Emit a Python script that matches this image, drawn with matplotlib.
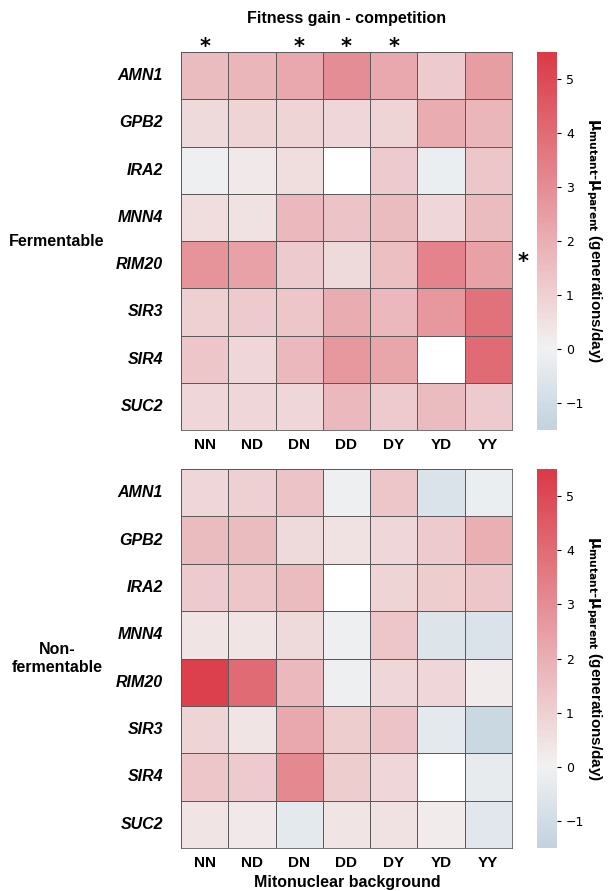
import numpy as np
import matplotlib
matplotlib.use('Agg')
import matplotlib.pyplot as plt
import seaborn as sns

genes = ['AMN1', 'GPB2', 'IRA2', 'MNN4', 'RIM20', 'SIR3', 'SIR4', 'SUC2']
backgrounds = ['NN', 'ND', 'DN', 'DD', 'DY', 'YD', 'YY']

# fitness gain (generations/day), fermentable carbon source
fermentable = np.array([
    [1.6, 1.8, 2.2, 3.0, 2.2, 1.2, 2.5],
    [0.7, 0.9, 0.9, 0.8, 0.9, 2.1, 1.8],
    [-0.1, 0.3, 0.6, np.nan, 1.2, -0.2, 1.3],
    [0.6, 0.5, 1.7, 1.4, 1.6, 0.8, 1.6],
    [2.8, 2.4, 1.2, 0.7, 1.5, 3.3, 2.4],
    [1.0, 1.2, 1.3, 2.1, 1.7, 2.7, 3.8],
    [1.3, 0.8, 1.7, 2.7, 2.3, np.nan, 4.0],
    [0.8, 0.8, 0.8, 1.7, 1.2, 1.6, 1.2],
])

# non-fermentable carbon source
nonfermentable = np.array([
    [0.8, 1.0, 1.4, -0.1, 1.3, -0.7, -0.2],
    [1.6, 1.6, 0.7, 0.5, 0.8, 1.2, 2.0],
    [1.2, 1.3, 1.6, np.nan, 0.9, 1.1, 1.3],
    [0.4, 0.4, 0.7, -0.1, 1.3, -0.6, -0.7],
    [5.3, 4.0, 1.7, -0.1, 0.8, 0.8, 0.2],
    [0.9, 0.4, 2.2, 1.1, 1.4, -0.4, -1.2],
    [1.3, 1.2, 3.1, 1.1, 0.8, np.nan, -0.3],
    [0.4, 0.3, -0.4, 0.4, 0.5, 0.2, -0.5],
])

starred_cols = ['NN', 'DN', 'DD', 'DY']  # significant backgrounds (fermentable)

W, H = 611, 891
dpi = 100
fig = plt.figure(figsize=(W / dpi, H / dpi), dpi=dpi)
bold = dict(family='Liberation Sans', fontweight='bold')

cmap = sns.diverging_palette(240, 10, as_cmap=True)


def box(x0, y0, x1, y1):
    return [x0 / W, 1 - y1 / H, (x1 - x0) / W, (y1 - y0) / H]


panels = [
    (fermentable, 'Fermentable', 52, 430),
    (nonfermentable, 'Non-\nfermentable', 469, 848),
]

for data, label, y0, y1 in panels:
    ax = fig.add_axes(box(181, y0, 512, y1))
    cax = fig.add_axes(box(537, y0, 557, y1))
    sns.heatmap(data, ax=ax, cbar_ax=cax, cmap=cmap, center=0, vmin=-1.5, vmax=5.5,
                linewidths=0.6, linecolor='#5a5a5a')
    for side in ['top', 'bottom', 'left', 'right']:
        ax.spines[side].set_visible(True)
        ax.spines[side].set_color('#5a5a5a')
        ax.spines[side].set_linewidth(0.6)
    ax.set_yticks(np.arange(len(genes)) + 0.5)
    ax.set_yticklabels(genes, rotation=0, fontsize=11.5, style='italic', **bold)
    ax.set_xticks(np.arange(len(backgrounds)) + 0.5)
    ax.set_xticklabels(backgrounds, fontsize=11, **bold)
    ax.tick_params(length=0, pad=6)
    ax.tick_params(axis='y', pad=13)

    cax.set_yticks([-1, 0, 1, 2, 3, 4, 5])
    cax.tick_params(labelsize=9, length=3, width=0.8)
    cax.set_ylabel(r'$\mathbf{\mu_{mutant}}$-$\mathbf{\mu_{parent}}$ (generations/day)',
                   rotation=270, labelpad=14, fontsize=11, **bold)
    for s in cax.spines.values():
        s.set_visible(False)

    fig.text(57 / W, 1 - ((y0 + y1) / 2) / H, label, ha='center', va='center',
             fontsize=11.5, **bold)

    if data is fermentable:
        fig.text(347 / W, 1 - 18 / H, 'Fitness gain - competition', ha='center',
                 va='center', fontsize=11.5, **bold)
        for col in starred_cols:
            ax.text(backgrounds.index(col) + 0.5, -0.1, '*', ha='center', va='center',
                    fontsize=15, fontweight='bold', clip_on=False)
        ax.text(len(backgrounds) + 0.24, genes.index('RIM20') + 0.45, '*', ha='center',
                va='center', fontsize=15, fontweight='bold', clip_on=False)
    else:
        fig.text(347 / W, 1 - 883 / H, 'Mitonuclear background', ha='center',
                 va='center', fontsize=11.5, **bold)

fig.savefig('out.png', dpi=dpi)
